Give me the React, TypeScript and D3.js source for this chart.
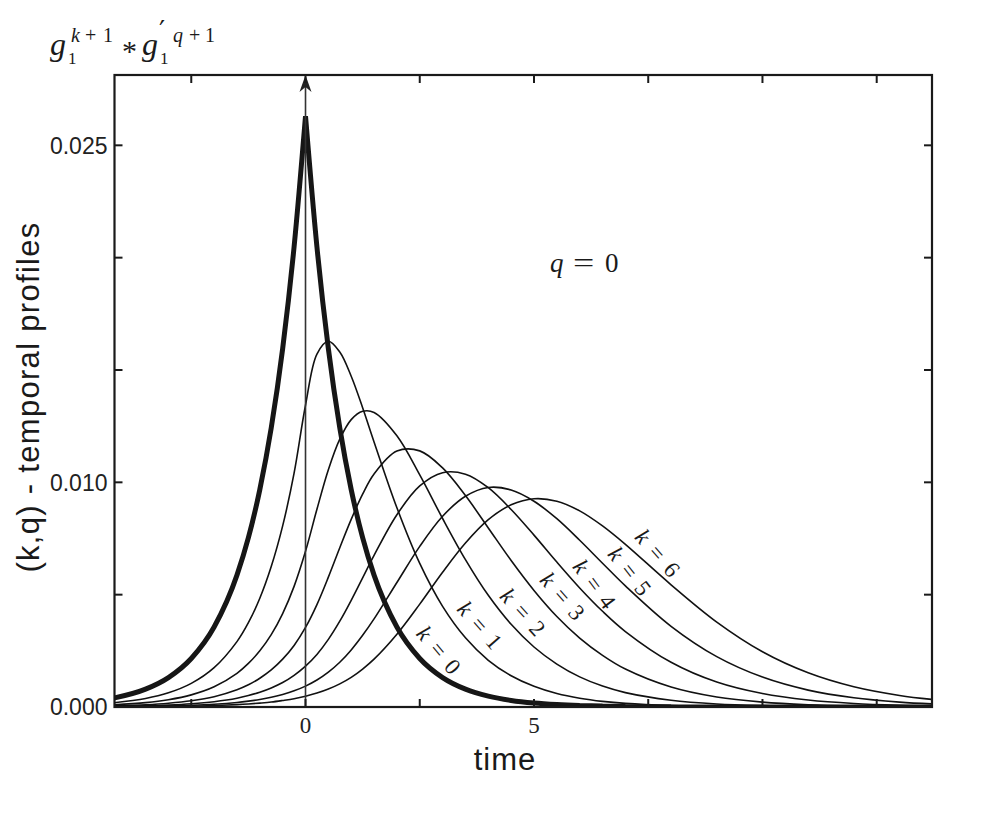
import * as d3 from "d3";
import { useEffect, useRef } from "react";

// time grid shared by all the profiles
const time = [
  -4.2, -3.5, -3, -2.5, -2, -1.5, -1.25, -1, -0.75, -0.5, -0.25, 0, 0.25, 0.5,
  0.75, 1, 1.25, 1.5, 2, 2.5, 3, 3.5, 4, 4.5, 5, 5.5, 6, 6.5, 7, 8, 9, 10, 11,
  12, 13, 13.7,
];

// profile values, in units of 1e-3
const profileK0 = [
  0.394, 0.794, 1.309, 2.159, 3.559, 5.868, 7.535, 9.675, 12.42, 15.95, 20.48,
  26.3, 20.48, 15.95, 12.42, 9.675, 7.535, 5.868, 3.559, 2.159, 1.309, 0.794,
  0.482, 0.292, 0.177, 0.108, 0.065, 0.04, 0.024, 0.009, 0.003, 0.001, 0, 0, 0,
  0,
];
const profileK1 = [
  0.185, 0.378, 0.63, 1.05, 1.75, 2.91, 3.75, 4.84, 6.25, 8.06, 10.41, 13.43,
  15.71, 16.28, 15.8, 14.72, 13.32, 11.8, 8.87, 6.39, 4.48, 3.08, 2.08, 1.39,
  0.92, 0.6, 0.39, 0.25, 0.16, 0.066, 0.027, 0.011, 0.004, 0.0015, 0.0006,
  0.0003,
];
const profileK2 = [
  0.096, 0.195, 0.325, 0.54, 0.9, 1.5, 1.94, 2.5, 3.22, 4.16, 5.37, 6.93, 8.8,
  10.56, 11.92, 12.79, 13.16, 13.11, 12.07, 10.33, 8.39, 6.56, 4.97, 3.68, 2.67,
  1.91, 1.34, 0.93, 0.64, 0.3, 0.134, 0.059, 0.026, 0.011, 0.0046, 0.0025,
];
const profileK3 = [
  0.049, 0.1, 0.166, 0.276, 0.46, 0.77, 0.99, 1.28, 1.65, 2.13, 2.74, 3.54,
  4.56, 5.78, 7.09, 8.35, 9.47, 10.37, 11.39, 11.4, 10.64, 9.41, 7.97, 6.52,
  5.19, 4.03, 3.07, 2.3, 1.69, 0.89, 0.445, 0.217, 0.103, 0.047, 0.022, 0.012,
];
const profileK4 = [
  0.025, 0.051, 0.085, 0.142, 0.237, 0.39, 0.51, 0.66, 0.85, 1.09, 1.41, 1.82,
  2.34, 3.01, 3.82, 4.75, 5.75, 6.75, 8.56, 9.84, 10.43, 10.36, 9.76, 8.79,
  7.65, 6.45, 5.3, 4.26, 3.36, 1.99, 1.11, 0.598, 0.31, 0.156, 0.076, 0.046,
];
const profileK5 = [
  0.013, 0.026, 0.044, 0.073, 0.121, 0.2, 0.26, 0.335, 0.43, 0.56, 0.72, 0.93,
  1.2, 1.55, 1.99, 2.54, 3.19, 3.92, 5.54, 7.15, 8.49, 9.38, 9.77, 9.66, 9.16,
  8.38, 7.42, 6.4, 5.39, 3.59, 2.24, 1.33, 0.752, 0.41, 0.217, 0.137,
];
const profileK6 = [
  0.0066, 0.0135, 0.0225, 0.037, 0.062, 0.104, 0.134, 0.173, 0.22, 0.29, 0.37,
  0.48, 0.62, 0.8, 1.03, 1.32, 1.69, 2.13, 3.24, 4.58, 6.0, 7.3, 8.34, 9.0,
  9.27, 9.16, 8.73, 8.06, 7.24, 5.44, 3.78, 2.46, 1.524, 0.902, 0.515, 0.341,
];
const profiles = [
  profileK0, profileK1, profileK2, profileK3, profileK4, profileK5, profileK6,
];
const kNames = ["0", "1", "2", "3", "4", "5", "6"];

const yTicks = [0, 5, 10, 15, 20, 25];
const yTickLabels = ["0.000", "", "0.010", "", "", "0.025"];
const xTicks = [-2.5, 0, 2.5, 5, 7.5, 10, 12.5];
const xTickLabels = ["", "0", "", "5", "", "", ""];

const width = 994;
const height = 814;
const plotLeft = 114.5;
const plotRight = 932;
const plotTop = 75;
const plotBottom = 707;

const serif = "'Liberation Serif', 'DejaVu Serif', serif";
const sans = "'Liberation Sans', Arial, sans-serif";

export default function App() {
  const ref = useRef(null);

  useEffect(() => {
    const svg = d3.select(ref.current);
    svg.selectAll("*").remove();

    const x = d3.scaleLinear().domain([-4.18, 13.71]).range([plotLeft, plotRight]);
    const y = d3.scaleLinear().domain([0, 28.13]).range([plotBottom, plotTop]);

    svg
      .append("defs")
      .append("clipPath")
      .attr("id", "plot-clip")
      .append("rect")
      .attr("x", plotLeft)
      .attr("y", plotTop)
      .attr("width", plotRight - plotLeft)
      .attr("height", plotBottom - plotTop);

    const pts = (vals) => time.map((t, i) => [t, vals[i]]);
    const curves = svg.append("g").attr("clip-path", "url(#plot-clip)");

    const smooth = d3
      .line()
      .x((d) => x(d[0]))
      .y((d) => y(d[1]))
      .curve(d3.curveCatmullRom.alpha(0.5));

    profiles.slice(1).forEach((vals) => {
      curves
        .append("path")
        .attr("d", smooth(pts(vals)))
        .attr("fill", "none")
        .attr("stroke", "#111")
        .attr("stroke-width", 1.6);
    });

    // k = 0 has a cusp at t = 0, so draw each side monotone and join them
    const mono = d3
      .line()
      .x((d) => x(d[0]))
      .y((d) => y(d[1]))
      .curve(d3.curveMonotoneX);
    const p0 = pts(profileK0);
    const leftSide = mono(p0.filter((d) => d[0] <= 0));
    const rightSide = mono(p0.filter((d) => d[0] >= 0)).replace(/^M[^C]*/, "");
    curves
      .append("path")
      .attr("d", leftSide + rightSide)
      .attr("fill", "none")
      .attr("stroke", "#161616")
      .attr("stroke-width", 5)
      .attr("stroke-linejoin", "bevel");

    // impulse at t = 0
    const x0 = x(0);
    svg
      .append("line")
      .attr("x1", x0)
      .attr("x2", x0)
      .attr("y1", y(0))
      .attr("y2", plotTop + 10)
      .attr("stroke", "#333")
      .attr("stroke-width", 1.6);
    svg
      .append("path")
      .attr("d", "M0,0 L-6,17 L0,12 L6,17 Z")
      .attr("transform", `translate(${x0},${plotTop})`)
      .attr("fill", "#222");

    // frame
    svg
      .append("rect")
      .attr("x", plotLeft)
      .attr("y", plotTop)
      .attr("width", plotRight - plotLeft)
      .attr("height", plotBottom - plotTop)
      .attr("fill", "none")
      .attr("stroke", "#1a1a1a")
      .attr("stroke-width", 2.2);

    const ticks = svg.append("g").attr("stroke", "#1a1a1a").attr("stroke-width", 2);
    yTicks.forEach((v) => {
      ticks.append("line").attr("x1", plotLeft).attr("x2", plotLeft + 8).attr("y1", y(v)).attr("y2", y(v));
      ticks.append("line").attr("x1", plotRight).attr("x2", plotRight - 8).attr("y1", y(v)).attr("y2", y(v));
    });
    xTicks.forEach((t) => {
      ticks.append("line").attr("x1", x(t)).attr("x2", x(t)).attr("y1", plotBottom).attr("y2", plotBottom - 8);
      ticks.append("line").attr("x1", x(t)).attr("x2", x(t)).attr("y1", plotTop).attr("y2", plotTop + 8);
    });

    yTicks.forEach((v, i) => {
      if (!yTickLabels[i]) return;
      svg
        .append("text")
        .attr("x", plotLeft - 7)
        .attr("y", y(v))
        .attr("dy", "0.36em")
        .attr("text-anchor", "end")
        .attr("font-family", sans)
        .attr("font-size", 23)
        .attr("fill", "#222")
        .text(yTickLabels[i]);
    });
    xTicks.forEach((t, i) => {
      if (!xTickLabels[i]) return;
      svg
        .append("text")
        .attr("x", x(t))
        .attr("y", plotBottom + 26)
        .attr("text-anchor", "middle")
        .attr("font-family", serif)
        .attr("font-size", 23)
        .attr("fill", "#222")
        .text(xTickLabels[i]);
    });

    // axis titles
    svg
      .append("text")
      .attr("x", 505)
      .attr("y", 770)
      .attr("text-anchor", "middle")
      .attr("font-family", sans)
      .attr("font-size", 31)
      .attr("letter-spacing", 1)
      .attr("fill", "#1a1a1a")
      .text("time");
    svg
      .append("text")
      .attr("transform", "translate(39,397) rotate(-90)")
      .attr("text-anchor", "middle")
      .attr("font-family", sans)
      .attr("font-size", 31)
      .attr("letter-spacing", 1.3)
      .attr("fill", "#1a1a1a")
      .text("(k,q) - temporal profiles");

    // title  g1^{k+1} * g'1^{q+1}
    const title = svg.append("g").attr("font-family", serif).attr("fill", "#1a1a1a");
    const piece = (px, py, size, txt, italic) =>
      title
        .append("text")
        .attr("x", px)
        .attr("y", py)
        .attr("font-size", size)
        .attr("font-style", italic ? "italic" : "normal")
        .text(txt);
    piece(50, 55, 32, "g", true);
    piece(68, 64, 17, "1", false);
    piece(71, 42, 20, "k", true);
    piece(85, 42, 20, "+", false);
    piece(103, 42, 20, "1", false);
    piece(122, 61, 30, "*", false);
    piece(142, 55, 32, "g", true);
    piece(159, 41, 27, "\u2032", false).attr("font-family", "'DejaVu Serif', serif");
    piece(160, 64, 17, "1", false);
    piece(173, 42, 20, "q", true);
    piece(189, 42, 20, "+", false);
    piece(205, 42, 20, "1", false);

    // q = 0
    const qg = svg.append("g").attr("font-family", serif).attr("font-size", 27).attr("fill", "#1a1a1a");
    qg.append("text").attr("x", 550).attr("y", 272).attr("font-style", "italic").text("q");
    qg.append("text")
      .attr("transform", "translate(573,272) scale(1.4,1)")
      .text("=");
    qg.append("text").attr("x", 605).attr("y", 272).text("0");

    // curve labels  k = n
    const labelAnchors = [
      [2.92, 2.54, 50],
      [3.82, 3.65, 49],
      [4.76, 4.23, 48],
      [5.63, 4.94, 49],
      [6.33, 5.47, 53],
      [7.1, 6.05, 52],
      [7.71, 6.85, 49],
    ];
    labelAnchors.forEach(([t, v, a], i) => {
      const txt = svg
        .append("text")
        .attr("transform", `translate(${x(t)},${y(v)}) rotate(${a})`)
        .attr("text-anchor", "middle")
        .attr("dy", "0.35em")
        .attr("font-family", serif)
        .attr("font-size", 23)
        .attr("fill", "#1a1a1a");
      txt.append("tspan").attr("font-style", "italic").text("k");
      txt.append("tspan").attr("dx", 10).text("=");
      txt.append("tspan").attr("dx", 10).text(kNames[i]);
    });
  }, []);

  return (
    <svg
      ref={ref}
      width={width}
      height={height}
      style={{ position: "absolute", left: 0, top: 0, background: "#fff" }}
    />
  );
}
